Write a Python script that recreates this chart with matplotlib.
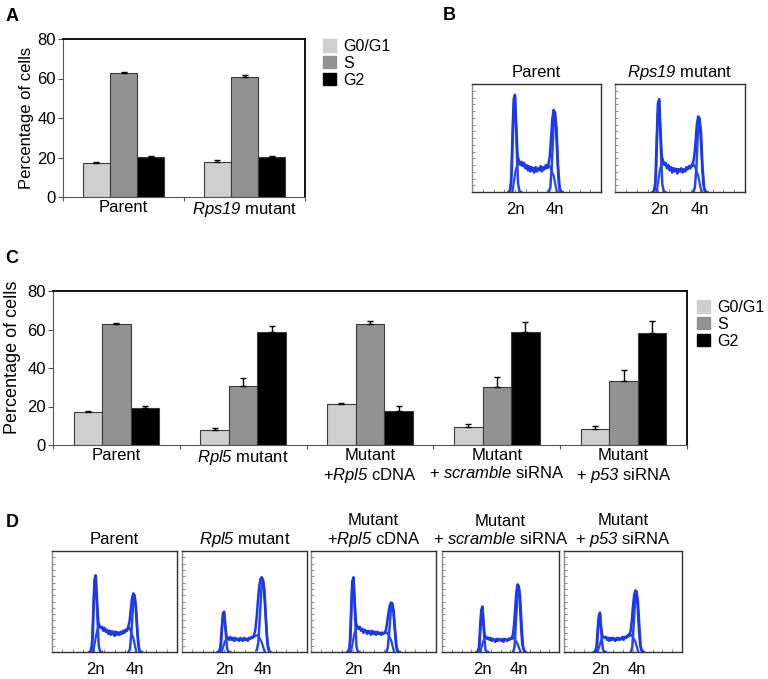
import matplotlib
matplotlib.use("Agg")
import matplotlib.pyplot as plt
import matplotlib.patches as mpatches
import numpy as np

plt.rcParams['font.family'] = 'Liberation Sans'
plt.rcParams['mathtext.fontset'] = 'custom'
# gene names are set with \mathrm, which here is the italic face
plt.rcParams['mathtext.rm'] = 'Liberation Sans:italic'
plt.rcParams['mathtext.it'] = 'Liberation Sans:italic'

W, H = 768, 679
FS = 12

phases = ["G0/G1", "S", "G2"]
phase_colors = ["#cfcfcf", "#929292", "#000000"]

# ---- panel A: cell cycle, Rps19
a_groups = ["Parent", r"$\mathrm{Rps19}$ mutant"]
a_g1 = [17.1, 17.6]
a_s = [62.9, 60.9]
a_g2 = [20.4, 20.4]
a_g1_err = [0.8, 1.0]
a_s_err = [0.3, 1.0]
a_g2_err = [0.3, 0.3]

# ---- panel C: cell cycle, Rpl5
c_groups = ["Parent", r"$\mathrm{Rpl5}$ mutant", "Mutant\n+$\\mathrm{Rpl5}$ cDNA",
            "Mutant\n+ $\\mathrm{scramble}$ siRNA", "Mutant\n+ $\\mathrm{p53}$ siRNA"]
c_g1 = [17.3, 7.8, 21.1, 9.3, 8.3]
c_s = [62.9, 30.8, 62.9, 30.3, 33.2]
c_g2 = [19.2, 58.9, 17.8, 58.9, 58.2]
c_g1_err = [0.4, 1.2, 0.5, 1.7, 1.6]
c_s_err = [0.4, 3.8, 1.7, 5.2, 5.7]
c_g2_err = [1.2, 3.0, 2.6, 5.2, 6.4]

# ---- DNA content histograms (height as fraction of the box)
hist_x = np.arange(30, 73)          # channel grid of the measured curve
two_n, four_n = 35, 66
comp_off = np.arange(-4, 5) * 1.2   # channel offsets of the fitted peaks
s_x = [33, 35.5, 37, 45, 55, 62, 65, 67.5]

b_titles = ["Parent", r"$\mathrm{Rps19}$ mutant"]
d_titles = ["Parent", r"$\mathrm{Rpl5}$ mutant", "Mutant\n+$\\mathrm{Rpl5}$ cDNA",
            "Mutant\n+ $\\mathrm{scramble}$ siRNA", "Mutant\n+ $\\mathrm{p53}$ siRNA"]

obs_b_parent = [0, 0.01, 0.08, 0.50, 0.86, 0.90, 0.62, 0.34, 0.29, 0.26,
                0.28, 0.24, 0.27, 0.22, 0.25, 0.20, 0.24, 0.19, 0.23, 0.20,
                0.18, 0.23, 0.19, 0.22, 0.20, 0.24, 0.19, 0.23, 0.21, 0.25,
                0.22, 0.26, 0.33, 0.50, 0.68, 0.76, 0.73, 0.55, 0.28, 0.08,
                0.01, 0, 0]
obs_b_rps19 = [0, 0.01, 0.07, 0.46, 0.82, 0.86, 0.58, 0.33, 0.29, 0.25,
               0.27, 0.22, 0.25, 0.20, 0.23, 0.18, 0.22, 0.19, 0.21, 0.17,
               0.21, 0.19, 0.22, 0.18, 0.21, 0.19, 0.23, 0.21, 0.24, 0.22,
               0.25, 0.27, 0.33, 0.47, 0.63, 0.70, 0.68, 0.50, 0.25, 0.07,
               0.01, 0, 0]
obs_d_parent = [0, 0.01, 0.06, 0.40, 0.72, 0.76, 0.52, 0.30, 0.26, 0.24,
                0.25, 0.21, 0.24, 0.20, 0.22, 0.18, 0.21, 0.17, 0.20, 0.18,
                0.16, 0.20, 0.17, 0.19, 0.17, 0.20, 0.18, 0.21, 0.19, 0.22,
                0.21, 0.25, 0.30, 0.42, 0.53, 0.58, 0.56, 0.44, 0.24, 0.07,
                0.01, 0, 0]
obs_d_rpl5 = [0, 0.01, 0.04, 0.22, 0.38, 0.40, 0.26, 0.15, 0.14, 0.12,
              0.15, 0.12, 0.14, 0.11, 0.14, 0.12, 0.13, 0.11, 0.14, 0.12,
              0.11, 0.14, 0.12, 0.13, 0.11, 0.14, 0.13, 0.15, 0.14, 0.17,
              0.22, 0.34, 0.50, 0.64, 0.72, 0.74, 0.72, 0.60, 0.40, 0.18,
              0.05, 0.01, 0]
obs_d_cdna = [0, 0.01, 0.06, 0.38, 0.70, 0.74, 0.50, 0.29, 0.25, 0.23,
              0.25, 0.21, 0.23, 0.19, 0.22, 0.20, 0.18, 0.21, 0.19, 0.17,
              0.21, 0.18, 0.20, 0.17, 0.20, 0.18, 0.19, 0.17, 0.19, 0.18,
              0.19, 0.22, 0.30, 0.39, 0.46, 0.49, 0.48, 0.39, 0.22, 0.07,
              0.01, 0, 0]
obs_d_scramble = [0, 0.01, 0.04, 0.25, 0.42, 0.45, 0.27, 0.16, 0.15, 0.13,
                  0.14, 0.12, 0.14, 0.11, 0.13, 0.12, 0.10, 0.13, 0.11, 0.13,
                  0.12, 0.11, 0.13, 0.10, 0.13, 0.12, 0.11, 0.13, 0.12, 0.14,
                  0.13, 0.17, 0.27, 0.44, 0.60, 0.67, 0.65, 0.48, 0.24, 0.08,
                  0.03, 0.01, 0]
obs_d_p53 = [0, 0.01, 0.05, 0.22, 0.36, 0.39, 0.24, 0.16, 0.15, 0.14,
             0.15, 0.12, 0.14, 0.11, 0.14, 0.12, 0.14, 0.12, 0.11, 0.14,
             0.12, 0.14, 0.12, 0.13, 0.15, 0.12, 0.15, 0.14, 0.16, 0.17,
             0.17, 0.21, 0.31, 0.46, 0.57, 0.61, 0.59, 0.44, 0.22, 0.07,
             0.02, 0.01, 0]

g1_fits = [[0, 0.02, 0.20, 0.72, 0.88, 0.45, 0.08, 0, 0],
           [0, 0.02, 0.18, 0.70, 0.84, 0.42, 0.07, 0, 0],
           [0, 0.01, 0.15, 0.62, 0.74, 0.38, 0.06, 0, 0],
           [0, 0.01, 0.08, 0.32, 0.39, 0.20, 0.03, 0, 0],
           [0, 0.01, 0.13, 0.60, 0.72, 0.36, 0.05, 0, 0],
           [0, 0.01, 0.08, 0.36, 0.44, 0.20, 0.03, 0, 0],
           [0, 0.01, 0.07, 0.30, 0.38, 0.18, 0.03, 0, 0]]
g2_fits = [[0, 0.04, 0.25, 0.58, 0.74, 0.60, 0.25, 0.04, 0],
           [0, 0.04, 0.22, 0.55, 0.68, 0.55, 0.22, 0.04, 0],
           [0, 0.03, 0.20, 0.45, 0.56, 0.45, 0.20, 0.03, 0],
           [0.02, 0.10, 0.35, 0.62, 0.72, 0.62, 0.35, 0.10, 0.02],
           [0, 0.04, 0.20, 0.40, 0.48, 0.40, 0.20, 0.04, 0],
           [0, 0.05, 0.30, 0.56, 0.65, 0.55, 0.28, 0.06, 0],
           [0, 0.05, 0.28, 0.52, 0.60, 0.50, 0.25, 0.05, 0]]
s_fits = [[0, 0.20, 0.26, 0.23, 0.21, 0.24, 0.15, 0],
          [0, 0.20, 0.27, 0.22, 0.20, 0.25, 0.15, 0],
          [0, 0.18, 0.25, 0.21, 0.19, 0.24, 0.14, 0],
          [0, 0.10, 0.13, 0.13, 0.13, 0.17, 0.10, 0],
          [0, 0.17, 0.24, 0.21, 0.19, 0.19, 0.12, 0],
          [0, 0.10, 0.15, 0.12, 0.12, 0.14, 0.08, 0],
          [0, 0.10, 0.15, 0.13, 0.13, 0.17, 0.10, 0]]
obs_all = [obs_b_parent, obs_b_rps19, obs_d_parent, obs_d_rpl5,
           obs_d_cdna, obs_d_scramble, obs_d_p53]
shifts = [-1.7, -1.0, 0.0, -1.3, -1.0, -0.4, -4.5]

fig = plt.figure(figsize=(W / 100, H / 100), dpi=100)


def px_axes(l, t, r, b):
    return fig.add_axes([l / W, 1 - b / H, (r - l) / W, (b - t) / H])


def bar_panel(ax, groups, vals, errs, ylab_x, ylab_y, ylab_fs):
    n = len(groups)
    x = np.arange(n)
    w = 0.225
    for i in range(3):
        ax.bar(x + (i - 1) * w, vals[i], w, color=phase_colors[i],
               edgecolor='#3a3a3a', linewidth=0.8,
               yerr=[np.zeros(n), errs[i]],
               error_kw=dict(ecolor='black', elinewidth=1, capsize=2.5, capthick=1))
    ax.set_xlim(-0.5, n - 0.5)
    ax.set_ylim(0, 80)
    ax.set_yticks([0, 20, 40, 60, 80])
    ax.set_xticks(np.arange(-0.5, n, 1))
    ax.set_xticklabels([])
    ax.set_xticks(x, minor=True)
    ax.set_xticklabels(groups, minor=True)
    for s in ['top', 'right']:
        ax.spines[s].set_color('black')
        ax.spines[s].set_linewidth(1.3)
    for s in ['left', 'bottom']:
        ax.spines[s].set_color('#555555')
        ax.spines[s].set_linewidth(0.8)
    ax.tick_params(axis='y', length=3.5, width=0.8, color='#555555', labelsize=FS, pad=1.5)
    ax.tick_params(axis='x', which='major', length=3, width=0.8, color='#555555')
    ax.tick_params(axis='x', which='minor', length=0, labelsize=FS, pad=2)
    ax.set_ylabel("Percentage of cells", fontsize=ylab_fs)
    ax.yaxis.set_label_coords(ylab_x, ylab_y)


def hist_panel(ax, k, title):
    sh = shifts[k]
    ax.plot(hist_x + sh, obs_all[k], color='#1d38e6', lw=1.8, zorder=3)
    ax.plot(two_n + sh + comp_off, g1_fits[k], color='#2446ee', lw=1.8, zorder=2)
    ax.plot(four_n + sh + comp_off, g2_fits[k], color='#2446ee', lw=1.8, zorder=2)
    ax.plot(np.array(s_x) + sh, s_fits[k], color='#2446ee', lw=1.6, zorder=2)
    ax.set_xlim(0, 100)
    ax.set_ylim(0, 1)
    ax.set_xticks([two_n + sh, four_n + sh])
    ax.set_xticklabels(["2n", "4n"])
    ax.set_yticks([])
    ax.set_xticks(np.linspace(0, 100, 13), minor=True)
    ax.set_yticks(np.linspace(0, 1, 17), minor=True)
    ax.tick_params(which='minor', direction='in', length=2, width=0.6, color='#777777')
    ax.tick_params(which='major', length=0, labelsize=FS, pad=7)
    for s in ax.spines.values():
        s.set_color('#303030')
        s.set_linewidth(1.0)
    ax.spines['left'].set_color('#8a8a8a')
    ax.set_title(title, fontsize=FS, pad=5, linespacing=1.15)


# panel A
axA = px_axes(63, 39, 305, 197)
bar_panel(axA, a_groups, [a_g1, a_s, a_g2], [a_g1_err, a_s_err, a_g2_err],
          -0.12, 0.5, 12)
handles = [mpatches.Patch(color=c, label=p) for c, p in zip(phase_colors, phases)]
fig.legend(handles=handles, loc='upper left', bbox_to_anchor=(323 / W, 1 - 39 / H),
           frameon=False, fontsize=11.5, handlelength=0.8, handleheight=0.8,
           handletextpad=0.45, labelspacing=0.12, borderpad=0, borderaxespad=0)

# panel B
for k, (l, r) in enumerate([(472, 601), (615, 745)]):
    hist_panel(px_axes(l, 84, r, 192), k, b_titles[k])

# panel C
axC = px_axes(53, 291, 687, 445)
bar_panel(axC, c_groups, [c_g1, c_s, c_g2], [c_g1_err, c_s_err, c_g2_err],
          -0.05, 0.57, 13)
fig.legend(handles=handles, loc='upper left', bbox_to_anchor=(697 / W, 1 - 300 / H),
           frameon=False, fontsize=11.5, handlelength=0.8, handleheight=0.8,
           handletextpad=0.45, labelspacing=0.12, borderpad=0, borderaxespad=0)

# panel D
d_boxes = [(52, 177), (182, 307), (311, 436), (442, 559), (564, 682)]
for j, (l, r) in enumerate(d_boxes):
    hist_panel(px_axes(l, 551, r, 652), j + 2, d_titles[j])

for letter, (x, y) in zip("ABCD", [(6, 21), (443, 20), (5, 263), (6, 527)]):
    fig.text(x / W, 1 - y / H, letter, fontsize=13, fontweight='bold', va='baseline')

fig.savefig("out.png", dpi=100)
